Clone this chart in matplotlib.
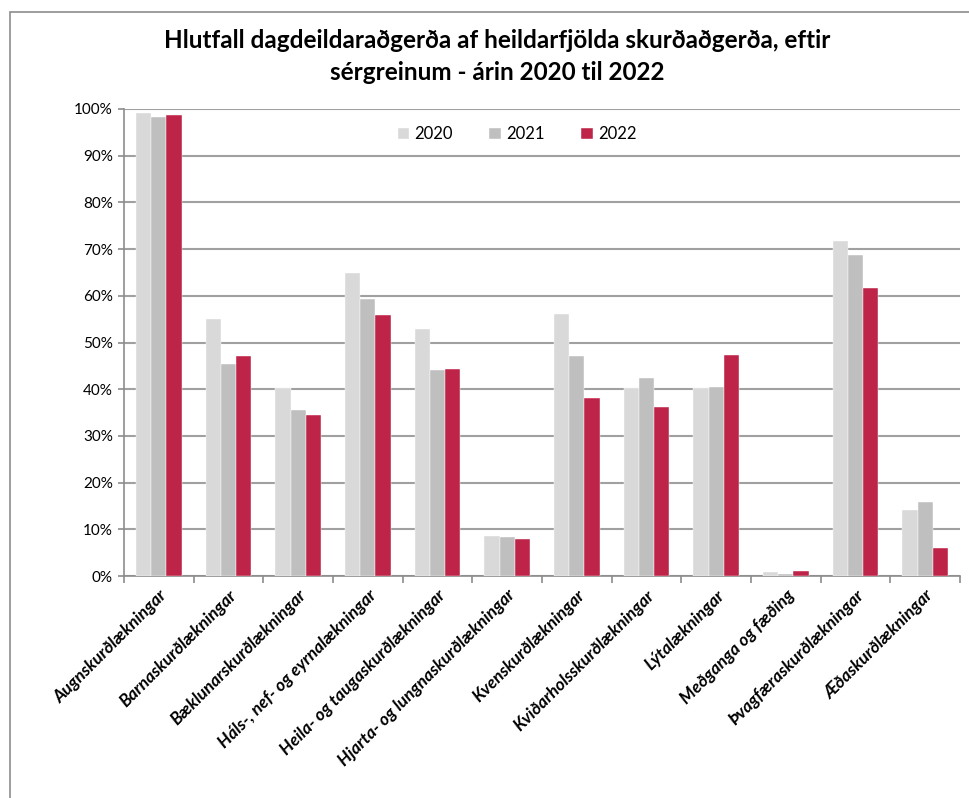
import matplotlib
matplotlib.use("Agg")
import matplotlib.pyplot as plt
import numpy as np
from matplotlib.patches import Rectangle
from matplotlib.ticker import FuncFormatter, MultipleLocator

categories = ["Augnskurðlækningar", "Barnaskurðlækningar", "Bæklunarskurðlækningar",
              "Háls-, nef- og eyrnalækningar", "Heila- og taugaskurðlækningar",
              "Hjarta- og lungnaskurðlækningar", "Kvenskurðlækningar",
              "Kviðarholsskurðlækningar", "Lýtalækningar", "Meðganga og fæðing",
              "Þvagfæraskurðlækningar", "Æðaskurðlækningar"]
years = ["2020", "2021", "2022"]
v2020 = [99.1, 55.0, 40.3, 64.9, 52.9, 8.6, 56.1, 40.3, 40.3, 0.9, 71.7, 14.1]
v2021 = [98.3, 45.4, 35.5, 59.3, 44.1, 8.4, 47.1, 42.4, 40.5, 0.5, 68.7, 15.9]
v2022 = [98.7, 47.1, 34.5, 55.9, 44.3, 7.9, 38.1, 36.2, 47.3, 1.0, 61.7, 6.0]
colors = ["#d9d9d9", "#bfbfbf", "#be2448"]

plt.rcParams['font.family'] = ['Lato', 'DejaVu Sans']

W, H = 970, 798
fig = plt.figure(figsize=(W/100, H/100), dpi=100)
ax = fig.add_axes([124/W, 1-576/H, (960-124)/W, (576-109)/H])

# chart border
fig.patches.append(Rectangle((10/W, -0.05), 1.1, 1-12/H+0.05, transform=fig.transFigure,
                             fill=False, edgecolor="#8c8c8c", lw=1.2))

x = np.arange(len(categories))
bw = 0.22
for i, (vals, c, lab) in enumerate(zip([v2020, v2021, v2022], colors, years)):
    ax.bar(x + (i-1)*bw, vals, width=bw, color=c, label=lab, zorder=3,
           edgecolor="white", linewidth=0.3)

ax.set_xlim(-0.5, len(categories)-0.5)
ax.set_ylim(0, 100)
ax.yaxis.set_major_locator(MultipleLocator(10))
ax.yaxis.set_major_formatter(FuncFormatter(lambda v, p: f"{int(round(v))}%"))
ax.grid(axis='y', color="#a0a0a0", lw=1.5, zorder=0)
for s in ["top", "right"]:
    ax.spines[s].set_visible(False)
for s in ["left", "bottom"]:
    ax.spines[s].set_color("#8c8c8c")
    ax.spines[s].set_linewidth(1.2)

ax.set_xticks(np.arange(len(categories)+1)-0.5, minor=False)
ax.set_xticklabels([])
ax.set_xticks(x, minor=True)
ax.set_xticklabels(categories, minor=True, rotation=45, ha='right', va='top',
                   rotation_mode='anchor', fontsize=12.5, fontweight='bold', style='italic')
ax.tick_params(axis='x', which='minor', length=0, pad=8)
ax.tick_params(axis='x', which='major', length=5, color="#8c8c8c", width=1.2)
ax.tick_params(axis='y', length=4, color="#8c8c8c", width=1.2, labelsize=11, pad=4)

ax.legend(loc='upper center', bbox_to_anchor=(0.47, 0.995), ncol=3, frameon=False,
          fontsize=12, handlelength=0.7, handleheight=0.7, columnspacing=2.2,
          handletextpad=0.3)

fig.text(497/W, 1-40/H, "Hlutfall dagdeildaraðgerða af heildarfjölda skurðaðgerða, eftir",
         ha='center', va='center', fontsize=17.5, fontweight='bold')
fig.text(497/W, 1-72/H, "sérgreinum - árin 2020 til 2022",
         ha='center', va='center', fontsize=17.5, fontweight='bold')

fig.savefig("out.png", dpi=100)
